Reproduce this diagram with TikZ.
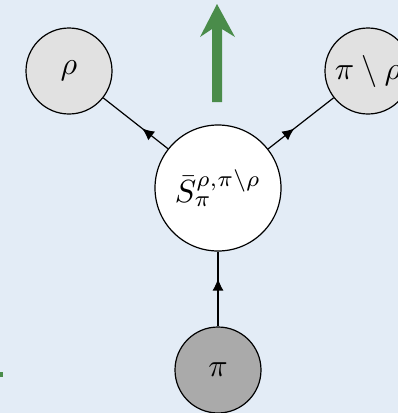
\documentclass[tikz,border=0pt]{standalone}
\usepackage{graphicx}
\usepackage{amssymb}
\usetikzlibrary{arrows.meta,decorations.markings}
\definecolor{bgblue}{RGB}{227,236,246}
\definecolor{lightnode}{RGB}{225,225,225}
\definecolor{darknode}{RGB}{170,170,170}
\definecolor{arrowgreen}{RGB}{74,140,74}
\newcommand{\bigtxt}[1]{\scalebox{3.2}{#1}}
\tikzset{
  leaf/.style={circle,draw=black,line width=1.2pt,fill=lightnode,minimum size=86pt,inner sep=0pt},
  root/.style={leaf,fill=darknode},
  hub/.style={circle,draw=black,line width=1.2pt,fill=white,minimum size=126pt,inner sep=0pt},
  edge/.style={line width=1.2pt,postaction={decorate},
    decoration={markings,mark=at position #1 with {\arrow{Latex[length=12pt,width=11pt]}}}},
}
\begin{document}
\begin{tikzpicture}[x=1pt,y=-1pt]
\useasboundingbox (0,0) rectangle (398,413);
\fill[bgblue] (0,0) rectangle (398,413);
% green arrow
\fill[arrowgreen] (212,102) -- (212,29) -- (200,37) -- (217,4) -- (235,37) -- (222,29) -- (222,102) -- cycle;
\fill[arrowgreen] (0,372) rectangle (3,377);
% nodes
\node[leaf] (rho) at (69,71) {\bigtxt{$\rho$}};
\node[leaf] (pirho) at (368,71) {\bigtxt{$\pi\setminus\rho$}};
\node[hub] (s) at (218,188) {\bigtxt{$\bar{S}_{\pi}^{\rho,\pi\setminus\rho}$}};
\node[root] (pi) at (218,370) {\bigtxt{$\pi$}};
% edges
\draw[edge=0.40] (s) -- (rho);
\draw[edge=0.40] (s) -- (pirho);
\draw[edge=0.64] (pi) -- (s);
\end{tikzpicture}
\end{document}
